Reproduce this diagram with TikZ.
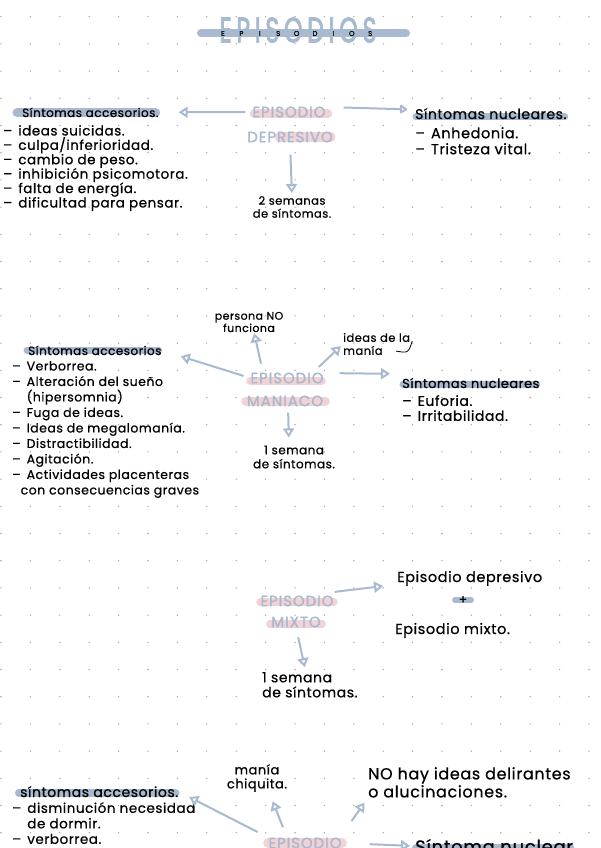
\documentclass[tikz,border=0pt]{standalone}
\usepackage{fontspec}
\setmainfont{Poppins}[LetterSpace=4, FakeBold=0.6]
\usetikzlibrary{arrows.meta,backgrounds}
\definecolor{azulgris}{RGB}{167,186,208}
\definecolor{rosa}{RGB}{243,210,214}
\definecolor{punto}{RGB}{170,170,170}
\newcommand\guion{–\hspace{6pt}}

\begin{document}
\begin{tikzpicture}[x=1pt, y=-1pt,
  every node/.style={inner sep=0pt, font=\fontsize{12}{14.4}\selectfont},
  titulo/.style={text=azulgris, font=\fontsize{15}{16}\selectfont\addfontfeature{LetterSpace=6, FakeBold=1.5}},
  cabeza/.style={anchor=base west},
  lista/.style={anchor=north west, align=left},
  nota/.style={align=center, font=\fontsize{11.5}{13}\selectfont},
  grande/.style={font=\fontsize{14.5}{18}\selectfont},
  flecha/.style={draw=azulgris, line width=2pt, -{Triangle[open, length=9pt, width=11pt]}},
  barra/.style={draw=azulgris, line width=8pt, line cap=round},
  rosado/.style={draw=rosa, line width=9pt, line cap=round}]
\useasboundingbox (0,0) rectangle (600,848);

% titulo
\node[text=azulgris, font=\fontsize{30}{30}\selectfont\addfontfeature{LetterSpace=20, FakeBold=3}] (tit) at (298,30) {\resizebox{157pt}{25pt}{EPISODIOS}};
\draw[barra] ([xshift=-97pt,yshift=-3.5pt]tit.center) -- ([xshift=108pt,yshift=-3.5pt]tit.center);
\foreach \l [count=\k] in {E,P,I,S,O,D,I,O,S}
  \node[font=\fontsize{7}{7}\selectfont] (letra\k) at (223+18.4*\k-18.4, 33.5) {\l};

% episodio depresivo
\node[titulo] (ep1a) at (289,112) {EPISODIO};
\node[titulo] (ep1b) at (290,137) {DEPRESIVO};
\node[cabeza] (hacc1) at (22,117) {Síntomas accesorios.};
\node[lista, font=\fontsize{13.5}{14.4}\selectfont] (acc1) at (3,125) {\guion ideas suicidas.\\\guion culpa/inferioridad.\\\guion cambio de peso.\\\guion inhibición psicomotora.\\\guion falta de energía.\\\guion dificultad para pensar.};
\node[cabeza, font=\fontsize{14}{16}\selectfont] (hnuc1) at (415,119) {Síntomas nucleares.};
\node[lista, font=\fontsize{14.5}{16}\selectfont] (nuc1) at (415,127) {\guion Anhedonia.\\\guion Tristeza vital.};
\node[nota] (sem1) at (292,207) {2 semanas\\de síntomas.};
\draw[flecha, shorten <=7pt, shorten >=20pt] (ep1a.west) -- (hacc1.east);
\draw[flecha, -{Triangle[open, round, length=8pt, width=10pt]}, shorten <=18pt, shorten >=8pt] ([yshift=5pt]ep1a.east) -- ([yshift=4pt]hnuc1.west);
\draw[flecha, shorten <=12pt, shorten >=3pt] (ep1b.south) -- (sem1.north);

% episodio maniaco
\node[titulo] (ep2a) at (287,378) {EPISODIO};
\node[titulo] (ep2b) at (285,401) {MANIACO};
\node[cabeza] (hacc2) at (28,355) {Síntomas accesorios};
\node[lista, font=\fontsize{12.5}{15.5}\selectfont] (acc2) at (12,361) {\guion Verborrea.\\\guion Alteración del sueño\\\phantom{\guion}(hipersomnia)\\\guion Fuga de ideas.\\\guion Ideas de megalomanía.\\\guion Distractibilidad.\\\guion Agitación.\\\guion Actividades placenteras\\\phantom{–}con consecuencias graves};
\node[cabeza, font=\fontsize{13}{15}\selectfont] (hnuc2) at (402,388) {Síntomas nucleares};
\node[lista, font=\fontsize{14}{15}\selectfont] (nuc2) at (402,395) {\guion Euforia.\\\guion Irritabilidad.};
\node[nota, font=\fontsize{11}{11}\selectfont] (pers) at (249,322) {persona NO\\funciona};
\node[nota, align=left, anchor=west] (ideas) at (343,344) {ideas de la\\manía};
\node[nota, font=\fontsize{12}{14}\selectfont] (sem2) at (294,457) {1 semana\\de síntomas.};
\draw[flecha, shorten <=7pt, shorten >=20pt] (ep2a.west) -- (hacc2.east);
\draw[flecha, shorten <=9pt, shorten >=1pt] ([xshift=-24pt]ep2a.north) -- ([xshift=5pt]pers.south);
\draw[flecha, shorten <=8pt, shorten >=3pt] ([xshift=26pt]ep2a.north) -- (ideas.west);
\draw[flecha, shorten <=16pt, shorten >=12pt] ([yshift=5pt]ep2a.east) -- ([yshift=9pt]hnuc2.west);
\draw[flecha, shorten <=6pt, shorten >=8pt] ([xshift=3pt]ep2b.south) -- ([xshift=-5pt]sem2.north);
\draw[line width=0.8pt] ([xshift=-14pt,yshift=4pt]ideas.south east) .. controls ([xshift=-2pt,yshift=2pt]ideas.south east) .. ([xshift=2pt,yshift=14pt]ideas.south east);

% episodio mixto
\node[titulo] (ep3a) at (297,601) {EPISODIO};
\node[titulo] (ep3b) at (296,622) {MIXTO};
\node[grande, anchor=base west] (dep3) at (397,582) {Episodio depresivo};
\node (mas) at (463,600) {+};
\node[grande, anchor=base west] (mix3) at (395,634) {Episodio mixto.};
\node[nota, align=left, anchor=north west, font=\fontsize{14}{15}\selectfont] (sem3) at (262,672) {1 semana\\de síntomas.};
\draw[flecha, shorten <=1pt, shorten >=14pt] ([yshift=9pt]ep3a.east) -- ([yshift=-6pt]dep3.west);
\draw[flecha, shorten <=10pt, shorten >=5pt] (ep3b.south) -- ([xshift=-4pt]sem3.north);

% episodio hipomaniaco (cortado)
\node[titulo] (ep4) at (305,843) {EPISODIO};
\node[cabeza, font=\fontsize{14}{15}\selectfont] (hacc4) at (20,797) {síntomas accesorios.};
\node[lista, font=\fontsize{13.5}{15.5}\selectfont] (acc4) at (12,802) {\guion disminución necesidad\\\phantom{\guion}de dormir.\\\guion verborrea.};
\node[nota, font=\fontsize{13}{14}\selectfont] (chiq) at (257,778) {manía\\chiquita.};
\node[grande, align=left, anchor=north west, font=\fontsize{16}{18}\selectfont] (noh) at (368,767) {NO hay ideas delirantes\\o alucinaciones.};
\node[cabeza, font=\fontsize{18}{18}\selectfont] (hnuc4) at (415,853) {Síntoma nuclear};
\draw[flecha, shorten <=12pt, shorten >=12pt] (ep4.north west) -- (hacc4.east);
\draw[flecha, shorten <=11pt, shorten >=10pt] ([xshift=-18pt]ep4.north) -- ([xshift=12pt]chiq.south);
\draw[flecha, shorten <=20pt, shorten >=6pt] ([xshift=35pt]ep4.north) -- (noh.south west);
\draw[flecha, shorten <=28pt, shorten >=5pt] (ep4.east) -- (hnuc4.west);

\begin{scope}[on background layer]
  \fill[white] (0,0) rectangle (600,848);
  \foreach \i in {0,...,20}
    \foreach \j in {0,...,30}
      \fill[punto] (1+29.4*\i, 16.7+27.2*\j) circle (0.8pt);
  % marcas rosas
  \draw[rosado] ([xshift=2pt,yshift=-2pt]ep1a.west) -- ([xshift=2pt,yshift=-2pt]ep1a.east);
  \draw[rosado] ([xshift=32pt]ep1b.west) -- ([xshift=-2pt]ep1b.east);
  \draw[rosado, line width=8pt] ([xshift=0pt,yshift=-3pt]ep2a.west) -- ([xshift=-2pt,yshift=-3pt]ep2a.east);
  \draw[rosado] ([xshift=-1pt]ep2b.west) -- ([xshift=2pt]ep2b.east);
  \draw[rosado, line width=8pt] ([xshift=0pt,yshift=-1pt]ep3a.west) -- ([xshift=0pt,yshift=-1pt]ep3a.east);
  \draw[rosado, line width=8pt] ([xshift=-1pt,yshift=-2pt]ep3b.west) -- ([xshift=1pt,yshift=-2pt]ep3b.east);
  \draw[rosado, line width=10pt] ([xshift=0pt]ep4.west) -- ([xshift=0pt]ep4.east);
  % resaltados azules
  \draw[barra, line width=9pt] ([xshift=-5pt,yshift=4pt]hacc1.base west) -- ([xshift=-3pt,yshift=4pt]hacc1.base east);
  \draw[barra, line width=7pt] ([xshift=1pt,yshift=2pt]hnuc1.base west) -- ([xshift=-2pt,yshift=2pt]hnuc1.base east);
  \draw[barra, line width=7pt] ([xshift=-1pt,yshift=5pt]hacc2.base west) -- ([xshift=-3pt,yshift=5pt]hacc2.base east);
  \draw[barra, line width=7pt] ([xshift=1pt,yshift=4pt]hnuc2.base west) -- ([xshift=-3pt,yshift=4pt]hnuc2.base east);
  \draw[barra, line width=6pt] ([xshift=-8pt]mas.center) -- ([xshift=8pt]mas.center);
  \draw[barra, line width=8pt] ([xshift=-1pt,yshift=4pt]hacc4.base west) -- ([xshift=-3pt,yshift=4pt]hacc4.base east);
  \draw[barra, line width=8pt] ([xshift=1pt,yshift=5pt]hnuc4.base west) -- ([xshift=-3pt,yshift=5pt]hnuc4.base east);
\end{scope}
\end{tikzpicture}
\end{document}
